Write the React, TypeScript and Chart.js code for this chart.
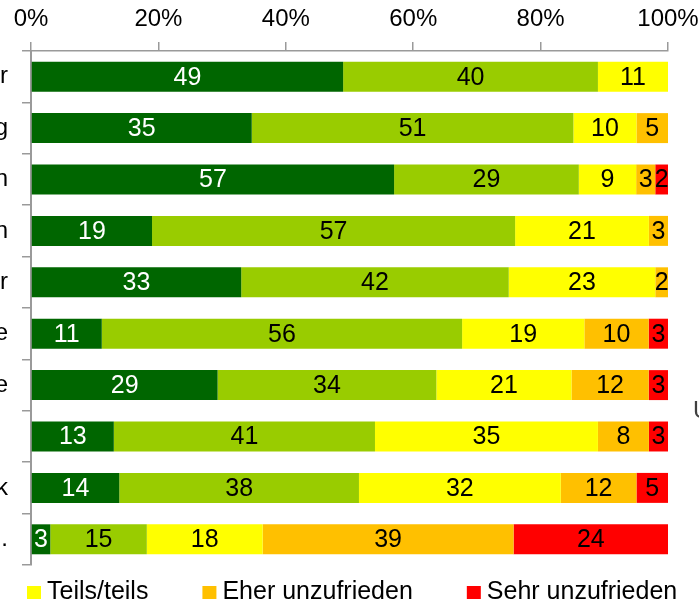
import React, { useEffect, useRef } from 'react';
import { Chart, registerables } from 'chart.js';

Chart.register(...registerables);

// ---- data ----
const categories = ['r', 'g', 'n', 'n', 'r', 'e', 'e', '', 'k', '.'];
const seriesNames = ['Sehr zufrieden', 'Eher zufrieden', 'Teils/teils', 'Eher unzufrieden', 'Sehr unzufrieden'];
const sehrZufrieden = [49, 35, 57, 19, 33, 11, 29, 13, 14, 3];
const eherZufrieden = [40, 51, 29, 57, 42, 56, 34, 41, 38, 15];
const teilsTeils = [11, 10, 9, 21, 23, 19, 21, 35, 32, 18];
const eherUnzufrieden = [0, 5, 3, 3, 2, 10, 12, 8, 12, 39];
const sehrUnzufrieden = [0, 0, 2, 0, 0, 3, 3, 3, 5, 24];
const xTickValues = [0, 20, 40, 60, 80, 100];
const legendShown = ['Teils/teils', 'Eher unzufrieden', 'Sehr unzufrieden'];
const sideText = 'U';

const series = [sehrZufrieden, eherZufrieden, teilsTeils, eherUnzufrieden, sehrUnzufrieden];
const colors = ['#006600', '#99CC00', '#FFFF00', '#FFC000', '#FF0000'];
const labelColors = ['#FFFFFF', '#000000', '#000000', '#000000', '#000000'];
const FONT = '"Liberation Sans", Arial, sans-serif';
const AXIS_COLOR = '#9a9a9a';

const totals = categories.map((_, i) => series.reduce((s, arr) => s + arr[i], 0));

const valueLabelPlugin = {
  id: 'valueLabels',
  afterDatasetsDraw(chart: any) {
    const ctx = chart.ctx;
    ctx.save();
    ctx.font = `25px ${FONT}`;
    ctx.textAlign = 'center';
    ctx.textBaseline = 'middle';
    chart.data.datasets.forEach((ds: any, di: number) => {
      const meta = chart.getDatasetMeta(di);
      meta.data.forEach((el: any, i: number) => {
        const raw = series[di][i];
        if (!raw) return;
        const p = el.getProps(['x', 'y', 'base'], true);
        ctx.fillStyle = labelColors[di];
        ctx.fillText(String(raw), (p.x + p.base) / 2, p.y + 1);
      });
    });
    ctx.restore();
  },
};

const customLegendPlugin = {
  id: 'customLegend',
  afterDraw(chart: any) {
    const ctx = chart.ctx;
    ctx.save();
    ctx.font = `25px ${FONT}`;
    ctx.textBaseline = 'alphabetic';
    ctx.textAlign = 'left';
    const baseline = 599;
    let x = 27;
    const gap = 54;
    chart.data.datasets.forEach((ds: any) => {
      if (!legendShown.includes(ds.label)) return;
      ctx.fillStyle = ds.backgroundColor;
      ctx.fillRect(x, baseline - 13, 14, 13);
      ctx.fillStyle = '#000000';
      const tx = x + 20;
      ctx.fillText(ds.label, tx, baseline);
      x = tx + ctx.measureText(ds.label).width + gap;
    });
    // clipped text at the right edge
    ctx.fillStyle = '#404040';
    ctx.font = `24px ${FONT}`;
    ctx.textBaseline = 'middle';
    const yScale = chart.scales.y;
    const yMid = (yScale.getPixelForValue(6) + yScale.getPixelForValue(7)) / 2 + 1;
    ctx.fillText(sideText, chart.chartArea.right + 25, yMid);
    ctx.restore();
  },
};

export default function App() {
  const canvasRef = useRef<HTMLCanvasElement>(null);

  useEffect(() => {
    const canvas = canvasRef.current;
    if (!canvas) return;
    const chart = new Chart(canvas, {
      type: 'bar',
      data: {
        labels: categories,
        datasets: series.map((arr, di) => ({
          label: seriesNames[di],
          data: arr.map((v, i) => (v / totals[i]) * 100),
          backgroundColor: colors[di],
          borderWidth: 0,
          barPercentage: 0.583,
          categoryPercentage: 1,
        })),
      },
      options: {
        indexAxis: 'y',
        animation: false,
        responsive: false,
        maintainAspectRatio: false,
        layout: { padding: { left: 0, right: 31, top: 0, bottom: 42 } },
        plugins: {
          legend: { display: false },
          tooltip: { enabled: false },
          title: { display: false },
        },
        scales: {
          x: {
            position: 'top',
            stacked: true,
            min: 0,
            max: 100,
            afterBuildTicks: (scale: any) => {
              scale.ticks = xTickValues.map((v) => ({ value: v }));
            },
            afterFit: (scale: any) => {
              scale.height = 51;
              scale.paddingLeft = 0;
              scale.paddingRight = 0;
            },
            ticks: {
              callback: (v: any) => `${v}%`,
              font: { family: FONT, size: 24 },
              color: '#000000',
              padding: 8,
              maxRotation: 0,
              autoSkip: false,
            },
            grid: {
              drawOnChartArea: false,
              drawTicks: true,
              tickLength: 9,
              color: AXIS_COLOR,
              lineWidth: 1.5,
            },
            border: { display: true, color: AXIS_COLOR, width: 1.5 },
          },
          y: {
            stacked: true,
            afterFit: (scale: any) => {
              scale.width = 31;
              scale.paddingTop = 0;
              scale.paddingBottom = 0;
            },
            ticks: {
              font: { family: FONT, size: 24 },
              color: '#000000',
              padding: 14,
              autoSkip: false,
            },
            grid: {
              drawOnChartArea: false,
              drawTicks: true,
              tickLength: 9,
              color: AXIS_COLOR,
              lineWidth: 1.5,
              offset: true,
            },
            border: { display: true, color: AXIS_COLOR, width: 2 },
          },
        },
      },
      plugins: [valueLabelPlugin, customLegendPlugin],
    } as any);
    return () => chart.destroy();
  }, []);

  return (
    <div style={{ position: 'fixed', left: 0, top: 0, width: 699, height: 607, background: '#ffffff' }}>
      <canvas ref={canvasRef} width={699} height={607} style={{ display: 'block' }} />
    </div>
  );
}
